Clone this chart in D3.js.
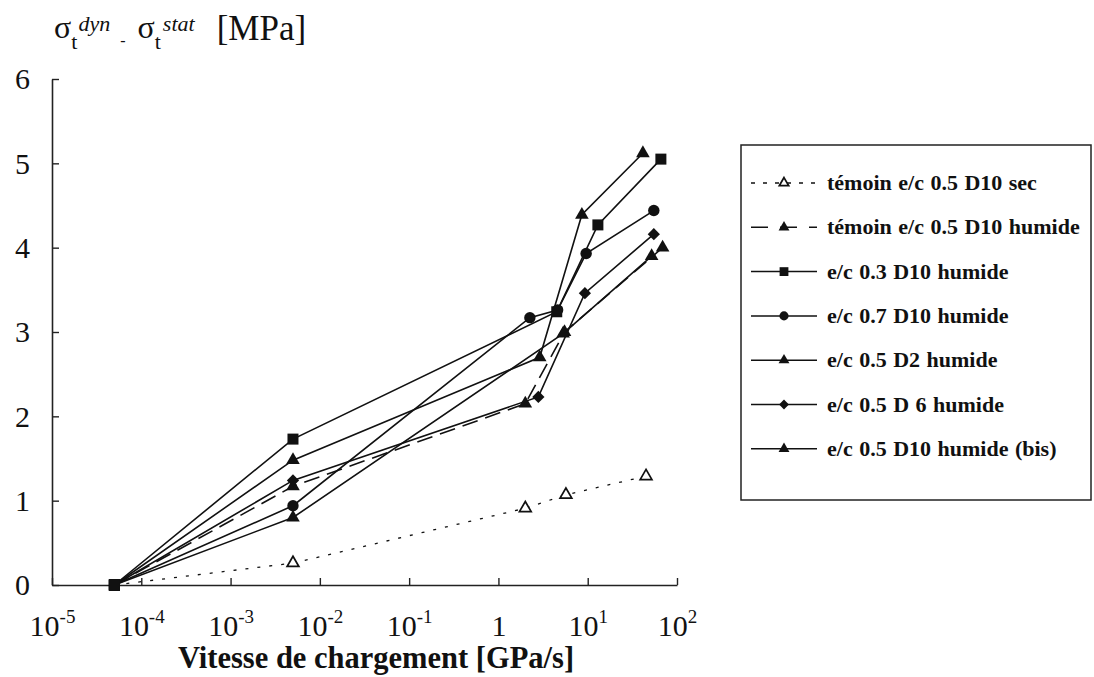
<!DOCTYPE html>
<html><head><meta charset="utf-8">
<script src="https://cdn.jsdelivr.net/npm/d3@7"></script>
<style>body{margin:0;background:#fff}svg{display:block}</style>
</head><body>
<svg id="chart" width="1094" height="677"></svg>
<script>
// ---- data ----
const seriesLabels = [
  "témoin e/c 0.5 D10 sec",
  "témoin e/c 0.5 D10 humide",
  "e/c 0.3 D10 humide",
  "e/c 0.7 D10 humide",
  "e/c 0.5 D2 humide",
  "e/c 0.5 D 6 humide",
  "e/c 0.5 D10 humide (bis)"
];
const secX = [5e-5, 5e-3, 2, 5.7, 45];
const secY = [0, 0.26, 0.91, 1.07, 1.29];
const humideX = [5e-5, 5e-3, 2.0, 5.5, 69];
const humideY = [0, 1.17, 2.15, 3.0, 4.0];
const ec03X = [5e-5, 5e-3, 4.5, 13, 66];
const ec03Y = [0, 1.73, 3.24, 4.27, 5.05];
const ec07X = [5e-5, 5e-3, 2.25, 4.6, 9.6, 55];
const ec07Y = [0, 0.94, 3.17, 3.26, 3.93, 4.44];
const d2X = [5e-5, 5e-3, 5.3, 52];
const d2Y = [0, 0.80, 2.98, 3.90];
const d6X = [5e-5, 5e-3, 2.8, 9.3, 55];
const d6Y = [0, 1.24, 2.23, 3.46, 4.16];
const bisX = [5e-5, 5e-3, 2.9, 8.6, 41.5];
const bisY = [0, 1.48, 2.70, 4.39, 5.12];
const yTicks = [0, 1, 2, 3, 4, 5, 6];
const xTickExps = [-5, -4, -3, -2, -1, 0, 1, 2];

const seriesX = [secX, humideX, ec03X, ec07X, d2X, d6X, bisX];
const seriesY = [secY, humideY, ec03Y, ec07Y, d2Y, d6Y, bisY];
const seriesMarker = ["triOpen", "tri", "square", "circle", "tri", "diamond", "tri"];
const seriesDash = ["3,9", "16,8", null, null, null, null, null];

// ---- chart ----
const svg = d3.select("#chart");
const serif = "'Liberation Serif','Times New Roman',serif";
const x = d3.scaleLog().domain([1e-5, 1e2]).range([52, 677]);
const y = d3.scaleLinear().domain([0, 6]).range([585, 79]);

// y axis
const gy = svg.append("g").attr("transform", "translate(52,0)")
  .call(d3.axisLeft(y).tickValues(yTicks).tickFormat(d3.format("d")).tickSize(-7).tickPadding(22).tickSizeOuter(0));
gy.attr("font-family", serif);
gy.select(".domain").attr("stroke", "#222").attr("stroke-width", 1.6);
gy.selectAll(".tick line").attr("stroke", "#222").attr("stroke-width", 1.4);
gy.selectAll(".tick text").attr("font-family", serif).attr("font-size", 30).attr("fill", "#111")
  .attr("dy", "0.33em");

// x axis
const gx = svg.append("g").attr("transform", "translate(0,585)")
  .call(d3.axisBottom(x).tickValues(xTickExps.map(e => Math.pow(10, e))).tickSize(-7).tickSizeOuter(0).tickFormat(""));
gx.attr("font-family", serif);
gx.select(".domain").attr("stroke", "#222").attr("stroke-width", 1.6);
gx.selectAll(".tick line").attr("stroke", "#222").attr("stroke-width", 1.4);
gx.selectAll(".tick").each(function(d, i) {
  const e = xTickExps[i];
  const t = d3.select(this).append("text").attr("y", 51).attr("fill", "#111")
    .attr("font-family", serif).attr("font-size", 30).attr("text-anchor", "middle");
  if (e === 0) { t.text("1"); }
  else {
    t.append("tspan").text("10");
    t.append("tspan").attr("dy", -13).attr("font-size", 19).text(String(e));
  }
});

// axis titles
svg.append("text").attr("x", 376).attr("y", 668).attr("text-anchor", "middle")
  .attr("font-family", serif).attr("font-size", 30.5).attr("font-weight", "bold").attr("fill", "#111")
  .text("Vitesse de chargement [GPa/s]");

const title = svg.append("text").attr("x", 54).attr("y", 38).attr("font-family", serif)
  .attr("font-size", 32).attr("fill", "#111");
title.append("tspan").text("σ");
title.append("tspan").attr("dy", 11).attr("font-size", 22).text("t");
title.append("tspan").attr("dy", -18).attr("dx", 1).attr("font-size", 22).attr("font-style", "italic").text("dyn");
title.append("tspan").attr("dy", 15).attr("dx", 10).attr("font-size", 16).text("-");
title.append("tspan").attr("dy", -8).attr("dx", 12).text("σ");
title.append("tspan").attr("dy", 11).attr("font-size", 22).text("t");
title.append("tspan").attr("dy", -18).attr("dx", 2).attr("font-size", 22).attr("font-style", "italic").text("stat");
title.append("tspan").attr("dy", 9).attr("dx", 22).attr("font-size", 35).text("[MPa]");

// markers
function drawMarker(g, type, cx, cy, s) {
  s = s || 1;
  if (type === "square") {
    const h = 5.5 * s;
    g.append("rect").attr("x", cx - h).attr("y", cy - h).attr("width", 2 * h).attr("height", 2 * h).attr("fill", "#111");
  } else if (type === "circle") {
    g.append("circle").attr("cx", cx).attr("cy", cy).attr("r", 5.7 * s).attr("fill", "#111");
  } else if (type === "diamond") {
    g.append("path").attr("d", d3.symbol(d3.symbolSquare, 75 * s * s)()).attr("transform", `translate(${cx},${cy}) rotate(45)`).attr("fill", "#111");
  } else if (type === "tri") {
    g.append("path").attr("d", d3.symbol(d3.symbolTriangle, 80 * s * s)()).attr("transform", `translate(${cx},${cy})`).attr("fill", "#111");
  } else if (type === "triOpen") {
    g.append("path").attr("d", d3.symbol(d3.symbolTriangle, 60 * s * s)()).attr("transform", `translate(${cx},${cy})`)
      .attr("fill", "#fff").attr("stroke", "#111").attr("stroke-width", 1.7);
  }
}

const line = d3.line().x(d => x(d[0])).y(d => y(d[1]));
const plot = svg.append("g");
seriesX.forEach((xs, i) => {
  const pts = xs.map((v, j) => [v, seriesY[i][j]]);
  plot.append("path").attr("d", line(pts)).attr("fill", "none").attr("stroke", "#111")
    .attr("stroke-width", i === 0 ? 1.3 : 1.6).attr("stroke-dasharray", seriesDash[i]);
});
seriesX.forEach((xs, i) => {
  const g = plot.append("g");
  xs.forEach((v, j) => {
    if (j === 0) drawMarker(g, "square", x(v), y(seriesY[i][j]));
    else drawMarker(g, seriesMarker[i], x(v), y(seriesY[i][j]));
  });
});

// legend
const lg = svg.append("g");
lg.append("rect").attr("x", 741).attr("y", 145).attr("width", 350).attr("height", 355)
  .attr("fill", "none").attr("stroke", "#222").attr("stroke-width", 1.5);
seriesLabels.forEach((lab, i) => {
  const ly = 183 + i * 44.3;
  lg.append("line").attr("x1", 751).attr("x2", 817).attr("y1", ly).attr("y2", ly)
    .attr("stroke", "#111").attr("stroke-width", 1.5).attr("stroke-dasharray", i === 0 ? "4,8" : (i === 1 ? "17,12" : null));
  drawMarker(lg, seriesMarker[i], 784, ly, 0.8);
  lg.append("text").attr("x", 827).attr("y", ly + 7).attr("font-family", serif).attr("font-size", 22)
    .attr("font-weight", "bold").attr("word-spacing", 1).attr("fill", "#111").text(lab);
});
</script>
</body></html>
